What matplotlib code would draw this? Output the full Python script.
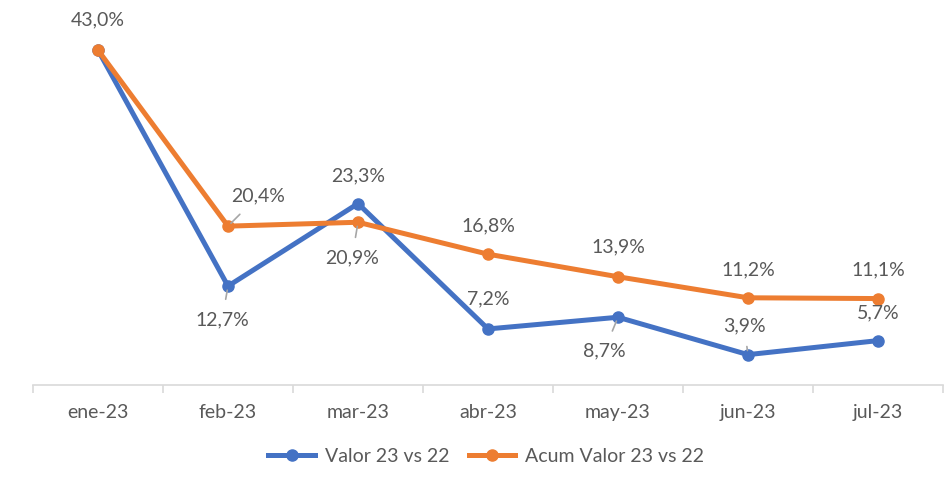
import matplotlib.pyplot as plt
import numpy as np

plt.rcParams['font.family'] = ['Lato', 'DejaVu Sans']

meses = ['ene-23', 'feb-23', 'mar-23', 'abr-23', 'may-23', 'jun-23', 'jul-23']
valor = [43.0, 12.7, 23.3, 7.2, 8.7, 3.9, 5.7]
acum = [43.0, 20.4, 20.9, 16.8, 13.9, 11.2, 11.1]

# label offsets in pixels (dx, dy), leader line flag
off_valor = [(0, 0), (-6, -34), (0, 28), (0, 30), (-14, -34), (-4, 29), (0, 28)]
lead_valor = [False, True, False, False, True, True, False]
off_acum = [(0, 30), (30, 30), (-6, -36), (0, 28), (0, 30), (0, 28), (0, 29)]
lead_acum = [False, True, True, False, False, False, False]

azul = '#4472C4'
naranja = '#ED7D31'
gris = '#595959'
fs = 14

fig = plt.figure(figsize=(9.44, 4.78), dpi=100)
ax = fig.add_axes([33/944, 93/478, 910/944, 366/478])

x = np.arange(len(meses))
ax.plot(x, valor, color=azul, lw=3.6, marker='o', markersize=8, label='Valor 23 vs 22', zorder=3)
ax.plot(x, acum, color=naranja, lw=3.6, marker='o', markersize=8, label='Acum Valor 23 vs 22', zorder=3)

def etiquetas(vals, offs, leads):
    for i, v in enumerate(vals):
        dx, dy = offs[i]
        if dx == 0 and dy == 0:
            continue
        txt = f'{v:.1f}'.replace('.', ',') + '%'
        kw = {}
        if leads[i]:
            kw['arrowprops'] = dict(arrowstyle='-', color='#A6A6A6', lw=1.2, shrinkA=7, shrinkB=3)
        ax.annotate(txt, (i, v), xytext=(dx, dy), textcoords='offset pixels',
                    ha='center', va='center', fontsize=fs, color=gris, **kw)

etiquetas(valor, off_valor, lead_valor)
etiquetas(acum, off_acum, lead_acum)

ax.set_xlim(-0.5, len(meses) - 0.5)
ax.set_ylim(0, 47)
ax.set_yticks([])
ax.set_xticks(x)
ax.set_xticklabels(meses, fontsize=fs, color=gris)
ax.tick_params(axis='x', length=0, pad=14)
ax.set_xticks(np.arange(-0.5, len(meses)), minor=True)
ax.tick_params(axis='x', which='minor', length=6, color='#D9D9D9', width=1.2)
for s in ['top', 'right', 'left']:
    ax.spines[s].set_visible(False)
ax.spines['bottom'].set_color('#D9D9D9')
ax.spines['bottom'].set_linewidth(1.2)

fig.legend(loc='center', bbox_to_anchor=(0.515, 0.045), ncol=2, frameon=False,
           fontsize=fs, labelcolor=gris, handlelength=2.4, handletextpad=0.5, columnspacing=1.0)

fig.savefig('out.png', dpi=100)
